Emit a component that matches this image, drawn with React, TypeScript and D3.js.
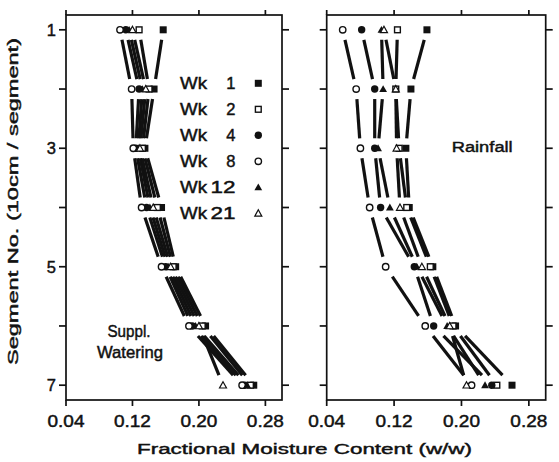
import React from "react";
import * as d3 from "d3";

const segments = [1, 2, 3, 4, 5, 6, 7];
const weekLabels = ["1", "2", "4", "8", "12", "21"];
const markerKinds = ["filledSquare", "openSquare", "filledCircle", "openCircle", "filledTriangle", "openTriangle"];

// Suppl. Watering panel (fractional moisture per segment 1..7)
const wateringWk1 = [0.157, 0.146, 0.135, 0.155, 0.172, 0.208, 0.266];
const wateringWk2 = [0.128, 0.140, 0.132, 0.150, 0.169, 0.204, 0.262];
const wateringWk4 = [0.112, 0.128, 0.124, 0.137, 0.160, 0.192, 0.255];
const wateringWk8 = [0.105, 0.119, 0.121, 0.131, 0.155, 0.188, 0.252];
const wateringWk12 = [0.116, 0.132, 0.127, 0.141, 0.163, 0.196, 0.258];
const wateringWk21 = [0.120, 0.136, 0.129, 0.145, 0.166, 0.200, 0.229];

// Rainfall panel
const rainWk1 = [0.159, 0.140, 0.134, 0.138, 0.166, 0.193, 0.260];
const rainWk2 = [0.124, 0.122, 0.126, 0.135, 0.163, 0.190, 0.242];
const rainWk4 = [0.0815, 0.097, 0.097, 0.104, 0.144, 0.167, 0.236];
const rainWk8 = [0.059, 0.075, 0.080, 0.091, 0.110, 0.157, 0.212];
const rainWk12 = [0.105, 0.107, 0.101, 0.115, 0.147, 0.183, 0.228];
const rainWk21 = [0.108, 0.122, 0.123, 0.127, 0.153, 0.186, 0.206];

const xTicks = [0.04, 0.12, 0.2, 0.28];
const xTickLabels = ["0.04", "0.12", "0.20", "0.28"];
const yTicks = [1, 2, 3, 4, 5, 6, 7];
const yTickLabels = ["1", "3", "5", "7"];

const FONT = "'Liberation Sans', Arial, Helvetica, sans-serif";
const INK = "#111";
const TXT = { fontFamily: FONT, fill: INK, stroke: INK, strokeWidth: 0.45 } as const;

const y = d3.scaleLinear().domain([0.75, 7.25]).range([15, 400]);

function Marker({ kind, cx, cy }: { kind: string; cx: number; cy: number }) {
  const s = 3.5;
  switch (kind) {
    case "filledSquare":
      return <rect x={cx - s} y={cy - s} width={2 * s} height={2 * s} fill={INK} />;
    case "openSquare":
      return <rect x={cx - 2.9} y={cy - 2.9} width={5.8} height={5.8} fill="#fff" stroke={INK} strokeWidth={1.4} />;
    case "filledCircle":
      return <circle cx={cx} cy={cy} r={3.7} fill={INK} />;
    case "openCircle":
      return <circle cx={cx} cy={cy} r={3.2} fill="#fff" stroke={INK} strokeWidth={1.4} />;
    case "filledTriangle":
      return <path d={`M${cx},${cy - 3.9}L${cx + 3.9},${cy + 3}L${cx - 3.9},${cy + 3}Z`} fill={INK} />;
    case "openTriangle":
      return <path d={`M${cx},${cy - 3.5}L${cx + 3.5},${cy + 2.8}L${cx - 3.5},${cy + 2.8}Z`} fill="#fff" stroke={INK} strokeWidth={1.2} />;
  }
  return null;
}

function Panel({ x0, x1, series, showYLabels }: { x0: number; x1: number; series: number[][]; showYLabels: boolean }) {
  const x = d3.scaleLinear().domain([0.04, 0.3]).range([x0, x1]);
  const top = y.range()[0];
  const bottom = y.range()[1];
  const gap = 10;
  return (
    <g>
      {series.map((vals, si) => (
        <g key={"l" + si}>
          {vals.slice(0, -1).map((v, i) => {
            const xa = x(v), ya = y(segments[i]);
            const xb = x(vals[i + 1]), yb = y(segments[i + 1]);
            const dy = yb - ya;
            const t0 = gap / dy, t1 = 1 - gap / dy;
            return (
              <line key={i}
                x1={xa + (xb - xa) * t0} y1={ya + dy * t0}
                x2={xa + (xb - xa) * t1} y2={ya + dy * t1}
                stroke={INK} strokeWidth={3.2} />
            );
          })}
        </g>
      ))}
      {series.map((vals, si) => (
        <g key={"m" + si}>
          {vals.map((v, i) => (
            <Marker key={i} kind={markerKinds[si]} cx={x(v)} cy={y(segments[i])} />
          ))}
        </g>
      ))}
      <rect x={x0} y={top} width={x1 - x0} height={bottom - top} fill="none" stroke={INK} strokeWidth={1.7} />
      {xTicks.map((t, i) => (
        <g key={"xt" + i}>
          <line x1={x(t)} x2={x(t)} y1={bottom} y2={bottom + 6} stroke={INK} strokeWidth={1.7} />
          <line x1={x(t)} x2={x(t)} y1={top} y2={top - 5} stroke={INK} strokeWidth={1.7} />
          <text x={x(t)} y={427} textAnchor="middle" fontSize={16.5} {...TXT}
            textLength={37} lengthAdjust="spacingAndGlyphs">{xTickLabels[i]}</text>
        </g>
      ))}
      {yTicks.map((t) => (
        <g key={"yt" + t}>
          <line x1={x0} x2={x0 - 7} y1={y(t)} y2={y(t)} stroke={INK} strokeWidth={1.7} />
          <line x1={x1} x2={x1 + 7} y1={y(t)} y2={y(t)} stroke={INK} strokeWidth={1.7} />
        </g>
      ))}
      {showYLabels && [1, 3, 5, 7].map((t, i) => (
        <text key={"yl" + t} x={x0 - 10} y={y(t) + 6} textAnchor="end" fontSize={16.5} {...TXT}>
          {yTickLabels[i]}
        </text>
      ))}
    </g>
  );
}

export default function App() {
  const watering = [wateringWk1, wateringWk2, wateringWk4, wateringWk8, wateringWk12, wateringWk21];
  const rain = [rainWk1, rainWk2, rainWk4, rainWk8, rainWk12, rainWk21];
  const legendY0 = 83.3;
  const legendDy = 26;
  return (
    <svg width={559} height={462} style={{ position: "absolute", left: 0, top: 0, background: "#fff" }}>
      <rect width={559} height={462} fill="#fff" />
      <Panel x0={66} x1={282} series={watering} showYLabels={true} />
      <Panel x0={326.7} x1={545.7} series={rain} showYLabels={false} />

      {weekLabels.map((w, i) => {
        const cy = legendY0 + i * legendDy;
        return (
          <g key={"lg" + i}>
            <text x={180} y={cy + 6} fontSize={16.5} {...TXT} textLength={27} lengthAdjust="spacingAndGlyphs">Wk</text>
            <text x={235.5} y={cy + 6} textAnchor="end" fontSize={16.5} {...TXT}
              textLength={w.length > 1 ? 25 : undefined} lengthAdjust="spacingAndGlyphs">{w}</text>
            <Marker kind={markerKinds[i]} cx={258.3} cy={cy} />
          </g>
        );
      })}

      <text x={129} y={337} textAnchor="middle" fontSize={16} {...TXT}
        textLength={43} lengthAdjust="spacingAndGlyphs">Suppl.</text>
      <text x={130} y={358} textAnchor="middle" fontSize={16} {...TXT}
        textLength={66} lengthAdjust="spacingAndGlyphs">Watering</text>
      <text x={451.7} y={152} fontSize={15.5} {...TXT}
        textLength={61} lengthAdjust="spacingAndGlyphs">Rainfall</text>

      <text x={137} y={454} fontSize={15.5} {...TXT}
        textLength={335} lengthAdjust="spacingAndGlyphs">Fractional Moisture Content (w/w)</text>
      <text transform="translate(18,365) rotate(-90)" x={0} y={0} fontSize={15.5} {...TXT}
        textLength={327} lengthAdjust="spacingAndGlyphs">Segment No. (10cm / segment)</text>
    </svg>
  );
}
